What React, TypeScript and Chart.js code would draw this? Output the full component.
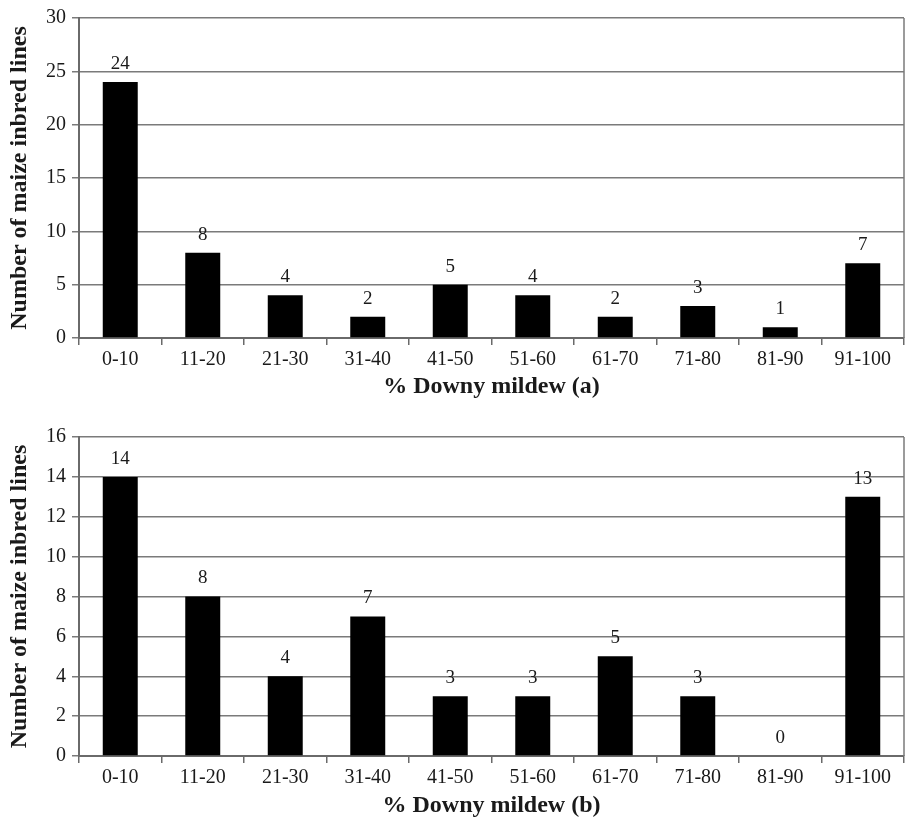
import React, { useEffect, useRef } from "react";
import { Chart, registerables } from "chart.js";

Chart.register(...registerables);

const categories = ["0-10", "11-20", "21-30", "31-40", "41-50", "51-60", "61-70", "71-80", "81-90", "91-100"];
const valuesA = [24, 8, 4, 2, 5, 4, 2, 3, 1, 7];
const valuesB = [14, 8, 4, 7, 3, 3, 5, 3, 0, 13];
const titleA = "% Downy mildew (a)";
const titleB = "% Downy mildew (b)";
const yTitle = "Number of maize inbred lines";

const FONT = "'Liberation Serif', 'Times New Roman', serif";
const TEXT = "#1a1a1a";
const GRID = "#7a7a7a";
const AXIS = "#6a6a6a";

const valueLabels = {
  id: "valueLabels",
  afterDatasetsDraw(chart: any) {
    const ctx = chart.ctx;
    const meta = chart.getDatasetMeta(0);
    const data = chart.data.datasets[0].data as number[];
    ctx.save();
    ctx.font = `19px ${FONT}`;
    ctx.fillStyle = TEXT;
    ctx.textAlign = "center";
    ctx.textBaseline = "middle";
    meta.data.forEach((el: any, i: number) => {
      ctx.fillText(String(data[i]), el.x, el.y - 18);
    });
    ctx.restore();
  },
};

const rightBorder = {
  id: "rightBorder",
  afterDraw(chart: any) {
    const { ctx, chartArea } = chart;
    ctx.save();
    ctx.strokeStyle = GRID;
    ctx.lineWidth = 1.5;
    ctx.beginPath();
    ctx.moveTo(chartArea.right, chartArea.top);
    ctx.lineTo(chartArea.right, chartArea.bottom);
    ctx.stroke();
    ctx.restore();
  },
};

function makeConfig(values: number[], max: number, step: number, xTitle: string, canvasH: number, bottomY: number, titlePadBottom: number): any {
  return {
    type: "bar",
    data: {
      labels: categories,
      datasets: [
        {
          data: values,
          backgroundColor: "#000000",
          borderWidth: 0,
          categoryPercentage: 1,
          barPercentage: 0.424,
        },
      ],
    },
    options: {
      responsive: false,
      animation: false,
      layout: { padding: { top: 15, right: 3, left: 0, bottom: 0 } },
      plugins: { legend: { display: false }, tooltip: { enabled: false } },
      scales: {
        x: {
          afterFit(scale: any) {
            scale.height = canvasH - bottomY;
          },
          grid: {
            display: true,
            drawOnChartArea: false,
            drawTicks: true,
            tickLength: 7,
            offset: true,
            color: AXIS,
            lineWidth: 1.5,
          },
          border: { display: true, color: AXIS, width: 2 },
          ticks: { color: TEXT, font: { size: 20, family: FONT }, padding: 3, maxRotation: 0 },
          title: {
            display: true,
            text: xTitle,
            color: TEXT,
            font: { size: 24, weight: "bold", family: FONT, lineHeight: 1.2 },
            padding: { top: 0, bottom: titlePadBottom },
          },
        },
        y: {
          min: 0,
          max: max,
          afterFit(scale: any) {
            scale.width = 79;
          },
          grid: {
            display: true,
            drawOnChartArea: true,
            drawTicks: true,
            tickLength: 7,
            color: GRID,
            lineWidth: 1.5,
          },
          border: { display: true, color: AXIS, width: 2 },
          ticks: { stepSize: step, color: TEXT, font: { size: 20, family: FONT }, padding: 6 },
          title: {
            display: true,
            text: yTitle,
            color: TEXT,
            font: { size: 24, weight: "bold", family: FONT, lineHeight: 1.2 },
            padding: { top: 5, bottom: 0 },
          },
        },
      },
    },
    plugins: [valueLabels, rightBorder],
  };
}

function BarPanel(props: { values: number[]; max: number; step: number; title: string; top: number; height: number; bottomY: number; titlePad: number }) {
  const ref = useRef<HTMLCanvasElement | null>(null);
  useEffect(() => {
    if (!ref.current) return;
    const chart = new Chart(
      ref.current,
      makeConfig(props.values, props.max, props.step, props.title, props.height, props.bottomY, props.titlePad)
    );
    return () => chart.destroy();
  }, []);
  return (
    <canvas
      ref={ref}
      width={907}
      height={props.height}
      style={{ position: "absolute", left: 0, top: props.top, width: 907, height: props.height }}
    />
  );
}

export default function App() {
  return (
    <div style={{ position: "absolute", left: 0, top: 0, width: 907, height: 823, background: "#ffffff" }}>
      <BarPanel values={valuesA} max={30} step={5} title={titleA} top={0} height={410} bottomY={338} titlePad={9} />
      <BarPanel values={valuesB} max={16} step={2} title={titleB} top={419} height={404} bottomY={337} titlePad={3} />
    </div>
  );
}
